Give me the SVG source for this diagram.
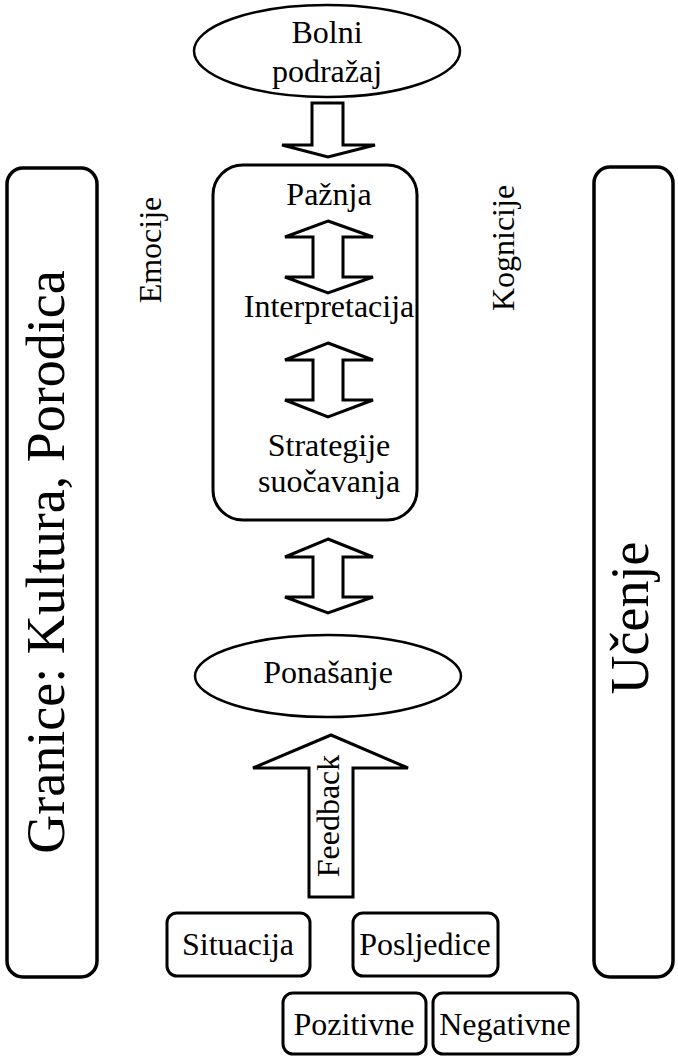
<svg xmlns="http://www.w3.org/2000/svg" width="678" height="1057" viewBox="0 0 678 1057">
<style>
.t{font-family:'Liberation Serif','DejaVu Serif',serif;font-size:32px;fill:#000;text-anchor:middle}
.big{font-size:54px}
.sh{fill:#fff;stroke:#000;stroke-width:3;stroke-linejoin:miter}
.el{fill:#fff;stroke:#000;stroke-width:2.5}
.bar{fill:#fff;stroke:#000;stroke-width:3.5}
.ar{fill:#fff;stroke:#000;stroke-width:3;stroke-linejoin:miter}
</style>
<rect width="678" height="1057" fill="#fff"/>
<g id="granice">
<rect class="bar" x="7" y="168" width="90" height="809" rx="16"/>
<text class="t big" font-family="Liberation Serif" transform="translate(64,562) rotate(-90)">Granice: Kultura, Porodica</text>
</g>
<g id="ucenje">
<rect class="bar" x="594" y="167" width="79" height="810" rx="16"/>
<text class="t big" font-family="Liberation Serif" transform="translate(648,618) rotate(-90)">Učenje</text>
</g>
<g id="emocije"><text class="t" font-family="Liberation Serif" transform="translate(161,250) rotate(-90)">Emocije</text></g>
<g id="kognicije"><text class="t" font-family="Liberation Serif" transform="translate(514,248) rotate(-90)">Kognicije</text></g>
<g id="bolni">
<ellipse class="el" cx="327" cy="51" rx="133" ry="46"/>
<text class="t" font-family="Liberation Serif" x="327" y="43">Bolni</text>
<text class="t" font-family="Liberation Serif" x="327" y="82">podražaj</text>
</g>
<g id="proces">
<rect class="sh" x="213" y="165" width="204" height="355" rx="30"/>
<text class="t" font-family="Liberation Serif" x="329" y="205">Pažnja</text>
<text class="t" font-family="Liberation Serif" x="329" y="317">Interpretacija</text>
<text class="t" font-family="Liberation Serif" x="329" y="456">Strategije</text>
<text class="t" font-family="Liberation Serif" x="329" y="492">suočavanja</text>
</g>
<g id="ponasanje">
<ellipse class="el" cx="328" cy="676" rx="133" ry="41"/>
<text class="t" font-family="Liberation Serif" x="328" y="683">Ponašanje</text>
</g>
<g id="situacija">
<rect class="sh" x="167" y="913" width="143" height="63" rx="10"/>
<text class="t" font-family="Liberation Serif" x="238" y="955">Situacija</text>
</g>
<g id="posljedice">
<rect class="sh" x="353" y="913" width="145" height="63" rx="10"/>
<text class="t" font-family="Liberation Serif" x="425" y="955">Posljedice</text>
</g>
<g id="pozitivne">
<rect class="sh" x="283" y="993" width="143" height="61" rx="10"/>
<text class="t" font-family="Liberation Serif" x="354" y="1035">Pozitivne</text>
</g>
<g id="negativne">
<rect class="sh" x="433" y="993" width="145" height="61" rx="10"/>
<text class="t" font-family="Liberation Serif" x="505" y="1035">Negativne</text>
</g>
<g id="connectors">
<path class="ar" d="M312,103 H343 V145 H375 L328,157 L282,145 H312 Z"/>
<path class="ar" d="M328,221 L373,237 H343 V277 H373 L328,293 L285,277 H313 V237 H285 Z"/>
<path class="ar" d="M328,343 L373,360 H343 V400 H373 L328,417 L285,400 H313 V360 H285 Z"/>
<path class="ar" d="M328,539 L373,557 H343 V597 H373 L328,613 L285,597 H313 V557 H285 Z"/>
<path class="ar" d="M331,735 L408,768 H353 V897 H309 V768 H253 Z"/>
<text class="t" font-family="Liberation Serif" transform="translate(339,816) rotate(-90)">Feedback</text>
</g>
</svg>
